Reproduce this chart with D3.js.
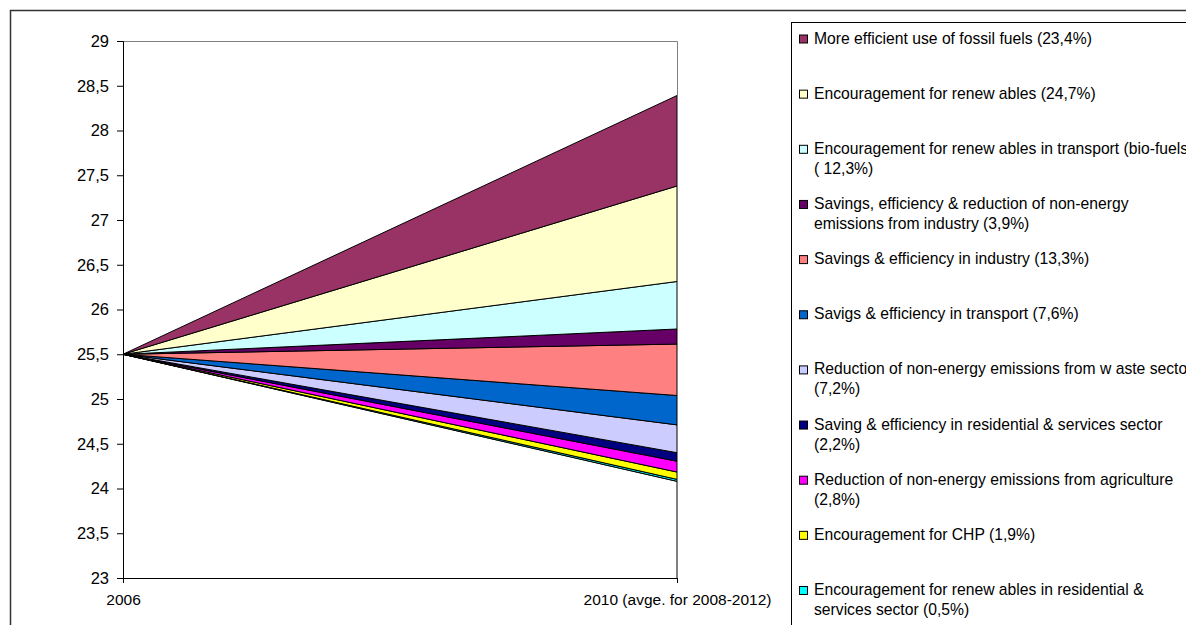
<!DOCTYPE html>
<html>
<head>
<meta charset="utf-8">
<script src="https://cdn.jsdelivr.net/npm/d3@7"></script>
<style>
  html, body { margin: 0; padding: 0; background: #fff; }
  svg { display: block; font-family: "Liberation Sans", Arial, sans-serif; }
</style>
</head>
<body>
<svg id="chart" width="1186" height="625"></svg>
<script>
// Categories on the horizontal axis
const years = ["2006", "2010 (avge. for 2008-2012)"];

// Emission level left after all measures (lowest, unfilled layer)
const remaining = [25.5, 24.08];

// Measures, stacked from the bottom layer upwards
const measureKeys = ["resRenew", "chp", "agri", "resSave", "waste", "transSave", "indSave", "indNonEnergy", "bioFuels", "renew", "fossil"];
const reduction2006 = [0, 0, 0, 0, 0, 0, 0, 0, 0, 0, 0];
const reduction2010 = [0.022, 0.082, 0.121, 0.095, 0.311, 0.328, 0.575, 0.168, 0.531, 1.067, 1.011];
const fills = ["#00FFFF", "#FFFF00", "#FF00FF", "#000080", "#CCCCFF", "#0066CC", "#FF8080", "#660066", "#CCFFFF", "#FFFFCC", "#993366"];

// Legend entries, top to bottom (each is a list of text lines)
const legendLines = [
  ["More efficient use of fossil fuels (23,4%)"],
  ["Encouragement for renew ables (24,7%)"],
  ["Encouragement for renew ables in transport (bio-fuels)", "( 12,3%)"],
  ["Savings, efficiency & reduction of non-energy", "emissions from industry (3,9%)"],
  ["Savings & efficiency in industry (13,3%)"],
  ["Savigs & efficiency in transport (7,6%)"],
  ["Reduction of non-energy emissions from w aste sector", "(7,2%)"],
  ["Saving & efficiency in residential & services sector", "(2,2%)"],
  ["Reduction of non-energy emissions from agriculture", "(2,8%)"],
  ["Encouragement for CHP (1,9%)"],
  ["Encouragement for renew ables in residential &", "services sector (0,5%)"]
];

// Y axis tick values
const yTicks = [23, 23.5, 24, 24.5, 25, 25.5, 26, 26.5, 27, 27.5, 28, 28.5, 29];

const svg = d3.select("#chart");

// Outer chart frame
svg.append("rect")
  .attr("x", 10.5).attr("y", 10.5)
  .attr("width", 1200).attr("height", 700)
  .attr("fill", "none").attr("stroke", "#333").attr("stroke-width", 1.5);

const plot = { left: 123, right: 677, top: 41, bottom: 578 };

const x = d3.scalePoint().domain(years).range([plot.left, plot.right]);
const y = d3.scaleLinear().domain([23, 29]).range([plot.bottom, plot.top]);

// Rows for stacking
const rows = years.map((yr, i) => {
  const r = { year: yr, remaining: remaining[i] };
  measureKeys.forEach((k, j) => { r[k] = i === 0 ? reduction2006[j] : reduction2010[j]; });
  return r;
});
const keys = ["remaining"].concat(measureKeys);
const series = d3.stack().keys(keys)(rows);

svg.append("defs").append("clipPath").attr("id", "plotClip")
  .append("rect")
  .attr("x", plot.left).attr("y", plot.top)
  .attr("width", plot.right - plot.left).attr("height", plot.bottom - plot.top);

// Plot area border (top / right)
svg.append("path")
  .attr("d", `M${plot.left},${plot.top + 0.5}H${plot.right + 0.5}V${plot.bottom}`)
  .attr("fill", "none").attr("stroke", "#808080").attr("stroke-width", 1);

const area = d3.area()
  .x(d => x(d.data.year))
  .y0(d => y(d[0]))
  .y1(d => y(d[1]));

svg.append("g").attr("clip-path", "url(#plotClip)")
  .selectAll("path")
  .data(series)
  .join("path")
  .attr("d", area)
  .attr("fill", (d, i) => i === 0 ? "none" : fills[i - 1])
  .attr("stroke", "#000")
  .attr("stroke-width", 1)
  .attr("stroke-linejoin", "miter");

// Y axis
const fmt = v => String(v).replace(".", ",");
const yAxis = svg.append("g")
  .attr("transform", `translate(${plot.left},0)`)
  .call(d3.axisLeft(y).tickValues(yTicks).tickFormat(fmt).tickSize(6).tickPadding(8));
yAxis.select(".domain").attr("stroke", "#000");
yAxis.selectAll("text").attr("font-size", 16.5).attr("fill", "#000")
  .attr("font-family", "Liberation Sans, Arial, sans-serif");

// X axis
const xAxis = svg.append("g")
  .attr("transform", `translate(0,${plot.bottom})`)
  .call(d3.axisBottom(x).tickSize(5).tickPadding(11).tickSizeOuter(0));
xAxis.select(".domain").attr("stroke", "#000");
xAxis.selectAll("text").attr("font-size", 15.5).attr("fill", "#000")
  .attr("font-family", "Liberation Sans, Arial, sans-serif");

// Legend
const legend = svg.append("g");
legend.append("rect")
  .attr("x", 791.5).attr("y", 22.5)
  .attr("width", 500).attr("height", 700)
  .attr("fill", "#fff").attr("stroke", "#000").attr("stroke-width", 1);

const legendFills = fills.slice().reverse();
const entry = legend.selectAll("g.entry")
  .data(legendLines)
  .join("g")
  .attr("class", "entry")
  .attr("transform", (d, i) => `translate(0,${43.5 + i * 55.15})`);

entry.append("rect")
  .attr("x", 799.5).attr("y", -8.5)
  .attr("width", 8).attr("height", 8)
  .attr("fill", (d, i) => legendFills[i])
  .attr("stroke", "#000").attr("stroke-width", 1);

entry.append("text")
  .attr("x", 814)
  .attr("font-size", 15.7)
  .attr("fill", "#000")
  .selectAll("tspan")
  .data(d => d)
  .join("tspan")
  .attr("x", 814)
  .attr("y", (d, i) => i * 20)
  .text(d => d);
</script>
</body>
</html>
